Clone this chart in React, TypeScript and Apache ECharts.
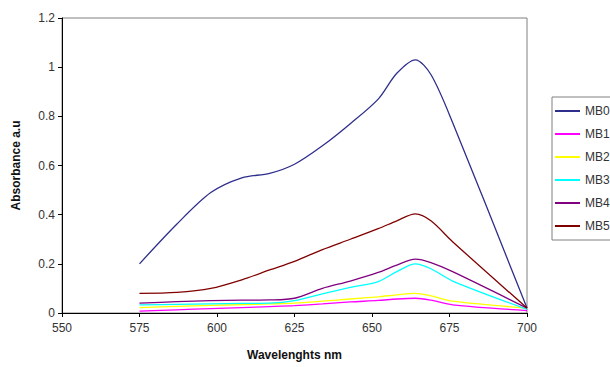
import React, { useEffect, useRef } from "react";
import * as echarts from "echarts";

const wavelengths = [575, 587, 598, 608, 617, 625, 634, 643, 652, 658, 664, 669, 676, 700];
const seriesNames = ["MB0", "MB1", "MB2", "MB3", "MB4", "MB5"];
const mb0 = [0.2, 0.361, 0.49, 0.55, 0.568, 0.605, 0.68, 0.77, 0.87, 0.975, 1.03, 0.97, 0.775, 0.02];
const mb1 = [0.008, 0.013, 0.018, 0.022, 0.026, 0.03, 0.037, 0.045, 0.051, 0.057, 0.06, 0.052, 0.033, 0.01];
const mb2 = [0.022, 0.027, 0.031, 0.034, 0.037, 0.04, 0.048, 0.057, 0.066, 0.074, 0.08, 0.07, 0.048, 0.02];
const mb3 = [0.033, 0.035, 0.037, 0.039, 0.04, 0.05, 0.078, 0.104, 0.128, 0.168, 0.2, 0.18, 0.13, 0.015];
const mb4 = [0.04, 0.046, 0.05, 0.052, 0.053, 0.06, 0.1, 0.13, 0.165, 0.195, 0.219, 0.205, 0.168, 0.02];
const mb5 = [0.08, 0.084, 0.1, 0.135, 0.175, 0.21, 0.258, 0.3, 0.343, 0.375, 0.403, 0.375, 0.29, 0.02];
const seriesValues = [mb0, mb1, mb2, mb3, mb4, mb5];
const colors = ["#2e2e8c", "#ff00ff", "#ffff00", "#00ffff", "#800080", "#800000"];

export default function App() {
  const ref = useRef<HTMLDivElement>(null);
  useEffect(() => {
    const chart = echarts.init(ref.current!, null, { renderer: "svg" });
    const font = "'Liberation Sans', Arial, sans-serif";
    chart.setOption({
      animation: false,
      textStyle: { fontFamily: font },
      grid: {
        left: 62,
        right: 83,
        top: 18,
        bottom: 54,
        show: true,
        borderColor: "#808080",
        borderWidth: 1,
      },
      legend: {
        orient: "vertical",
        left: 552,
        top: 97,
        data: seriesNames,
        icon: "rect",
        itemWidth: 25,
        itemHeight: 2,
        itemGap: 9,
        padding: [7, 40, 7, 3],
        borderColor: "#808080",
        borderWidth: 1,
        textStyle: { fontFamily: font, fontSize: 12, color: "#333", lineHeight: 14 },
      },
      xAxis: {
        type: "value",
        min: 550,
        max: 700,
        interval: 25,
        name: "Wavelenghts nm",
        nameLocation: "middle",
        nameGap: 36,
        nameTextStyle: { fontFamily: font, fontSize: 12, fontWeight: "bold", color: "#111" },
        axisLine: { show: true, lineStyle: { color: "#000", width: 1 } },
        axisTick: { show: true, inside: false, length: 4, lineStyle: { color: "#000" } },
        axisLabel: { fontFamily: font, fontSize: 12, color: "#333", margin: 9 },
        splitLine: { show: false },
      },
      yAxis: {
        type: "value",
        min: 0,
        max: 1.2,
        interval: 0.2,
        name: "Absorbance a.u",
        nameLocation: "middle",
        nameGap: 40,
        nameTextStyle: { fontFamily: font, fontSize: 12, fontWeight: "bold", color: "#111" },
        axisLine: { show: true, lineStyle: { color: "#000", width: 1 } },
        axisTick: { show: true, inside: false, length: 4, lineStyle: { color: "#000" } },
        axisLabel: { fontFamily: font, fontSize: 12, color: "#333", margin: 7 },
        splitLine: { show: false },
      },
      series: seriesNames.map((name, i) => ({
        name,
        type: "line",
        smooth: 0.3,
        symbol: "none",
        color: colors[i],
        lineStyle: { color: colors[i], width: 1.3 },
        data: wavelengths.map((w, j) => [w, seriesValues[i][j]]),
      })),
    });
    return () => chart.dispose();
  }, []);
  return <div ref={ref} style={{ width: 610, height: 367, position: "absolute", left: 0, top: 0 }} />;
}
